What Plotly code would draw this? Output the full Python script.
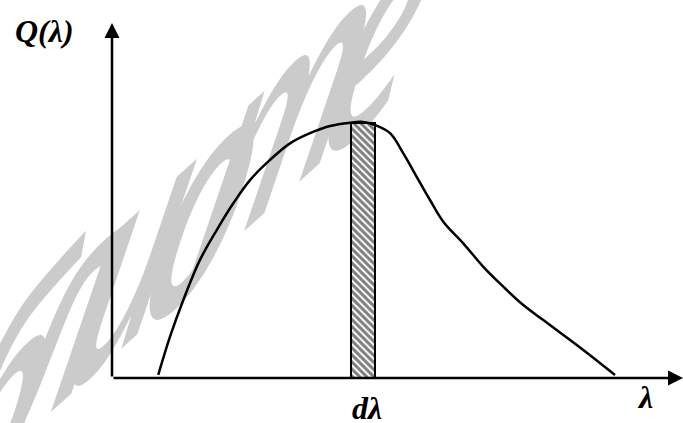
import plotly.graph_objects as go

# ---- data (λ in arbitrary units, Q normalised to peak) ----
lam = [0.81, 1.016, 1.249, 1.541, 1.834, 2.124, 2.417, 2.767, 3.117, 3.468, 3.818,
       4.168, 4.396, 4.606, 4.869, 5.102, 5.336, 5.569, 5.802, 6.152, 6.503, 6.853,
       7.203, 7.553, 7.904, 8.254, 8.809]
Q = [0.012, 0.162, 0.306, 0.463, 0.580, 0.685, 0.776, 0.855, 0.920, 0.960, 0.988,
     1.001, 1.004, 0.992, 0.960, 0.881, 0.789, 0.698, 0.613, 0.528, 0.436, 0.358,
     0.286, 0.227, 0.169, 0.110, 0.012]

band_center = [4.396]
band_height = [1.0]
band_width = [0.42]

x_max = 10.0
y_max = 1.392

y_label = "Q(λ)"
x_label = "λ"
band_label = "dλ"

watermark_letters = ["б", "л", "и", "о", "т", "е"]
watermark_px = [(8, 385), (68, 308), (137, 246), (210, 188), (292, 100), (385, 22)]

# ---- geometry helpers (pixel -> paper) ----
W, H = 683, 423
ML, MR, MT, MB = 112, 0, 23, 45
PW, PH = W - ML - MR, H - MT - MB


def paper(px, py):
    return (px - ML) / PW, (H - MB - py) / PH


fig = go.Figure()

fig.add_trace(go.Bar(
    x=band_center, y=band_height, width=band_width,
    marker=dict(color="white", line=dict(color="black", width=2),
                pattern=dict(shape="\\", fgcolor="black", bgcolor="white",
                             size=5, solidity=0.6)),
    showlegend=False, hoverinfo="skip"))

fig.add_trace(go.Scatter(
    x=lam, y=Q, mode="lines",
    line=dict(color="black", width=2.5, shape="spline", smoothing=1.0),
    showlegend=False, hoverinfo="skip"))

annotations = []
# watermark letters (skewed and moved under the plot in the page script)
for ch, (px, py) in zip(watermark_letters, watermark_px):
    xp, yp = paper(px, py)
    annotations.append(dict(
        x=xp, y=yp, xref="paper", yref="paper", text=ch, showarrow=False,
        xanchor="center", yanchor="middle",
        font=dict(family="Open Sans", size=300, style="italic", weight=600,
                  color="#cbcbcb")))
n_wm = len(watermark_letters)

# axes with arrows
annotations.append(dict(x=0, y=y_max, ax=0, ay=0, xref="x", yref="y",
                        axref="x", ayref="y", text="", showarrow=True,
                        arrowhead=2, arrowsize=1.2, arrowwidth=2.5,
                        arrowcolor="black", standoff=0))
annotations.append(dict(x=x_max, y=0, ax=0, ay=0, xref="x", yref="y",
                        axref="x", ayref="y", text="", showarrow=True,
                        arrowhead=2, arrowsize=1.2, arrowwidth=2.5,
                        arrowcolor="black", standoff=0))

label_font = dict(family="Liberation Serif", size=32, color="black",
                  weight="bold", style="italic")
for txt, (px, py) in [(y_label, (44, 31)), (x_label, (645, 397)),
                      (band_label, (367, 408))]:
    xp, yp = paper(px, py)
    annotations.append(dict(x=xp, y=yp, xref="paper", yref="paper", text=txt,
                            showarrow=False, xanchor="center", yanchor="middle",
                            font=label_font))

fig.update_layout(
    width=W, height=H,
    margin=dict(l=ML, r=MR, t=MT, b=MB),
    paper_bgcolor="white", plot_bgcolor="white",
    xaxis=dict(range=[0, x_max], visible=False, fixedrange=True),
    yaxis=dict(range=[0, y_max], visible=False, fixedrange=True),
    bargap=0,
    annotations=annotations,
)

post = """
document.body.style.margin='0';
document.body.style.overflow='hidden';
var gd = document.getElementById('{plot_id}');
var a = 0.595, b = -0.535, c = -0.242, d = 0.970;
var below = gd.querySelector('.main-svg .layer-below');
var nodes = [];
for (var i = 0; i < %d; i++) {
  var ann = gd.querySelector('g.annotation[data-index="' + i + '"]');
  if (!ann) continue;
  var g = ann.querySelector('g.annotation-text-g');
  var bb = g.getBBox();
  var cx = bb.x + bb.width / 2, cy = bb.y + bb.height / 2;
  g.setAttribute('transform', 'translate(' + cx + ',' + cy + ') matrix(' +
      a + ',' + b + ',' + c + ',' + d + ',0,0) translate(' + (-cx) + ',' + (-cy) + ')');
  nodes.push(ann);
}
if (below) { nodes.forEach(function(n){ below.appendChild(n); }); }
""" % n_wm

fig.write_html("out.html", post_script=post, config={"displayModeBar": False})
